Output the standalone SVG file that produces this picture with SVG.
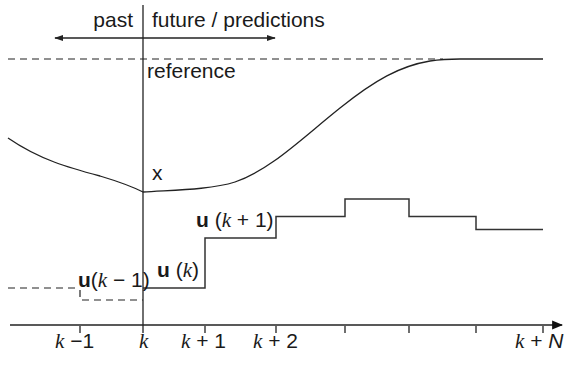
<svg xmlns="http://www.w3.org/2000/svg" width="565" height="365" viewBox="0 0 565 365">
<style>
.t{font-family:"Liberation Sans",Arial,sans-serif;font-size:21px;fill:#1a1a1a}
.k{font-family:"Liberation Serif","Times New Roman",serif;font-style:italic}
.b{font-weight:bold}
.ln{stroke:#222;stroke-width:1.3;fill:none}
.st{stroke:#333;stroke-width:1.5;fill:none}
.ds{stroke:#222;stroke-width:1.2;fill:none;stroke-dasharray:7 5}
</style>
<defs>
<marker id="ah" viewBox="0 0 10 10" refX="9" refY="5" markerWidth="9" markerHeight="9" markerUnits="userSpaceOnUse" orient="auto-start-reverse">
<path d="M0,1.5 L10,5 L0,8.5 z" fill="#222"/>
</marker>
<marker id="ah2" viewBox="0 0 10 10" refX="9" refY="5" markerWidth="11" markerHeight="11" markerUnits="userSpaceOnUse" orient="auto">
<path d="M0,1 L10,5 L0,9 z" fill="#111"/>
</marker>
</defs>
<g id="connectors">
<line class="ln" x1="10" y1="325" x2="562" y2="325" marker-end="url(#ah2)"/>
<path class="ln" d="M80,326V333M205,326V333M276,326V333M345,326V333M409,326V333M476,326V333M543,326V333"/>
<line class="ln" x1="143" y1="5" x2="143" y2="333"/>
<line class="ln" x1="55" y1="38" x2="275" y2="38" marker-start="url(#ah)" marker-end="url(#ah)"/>
<line class="ds" x1="8" y1="59" x2="443" y2="59"/>
<path class="ln" d="M8,138 C40,160 70,168 100,176 C120,182 133,187 143,192 C170,190 210,190 235,182 C270,170 300,140 340,108 C375,80 400,66 430,61 C440,59.5 450,59 460,59 L543,59"/>
<path class="ds" d="M8,288H78M80,290V298M82,300H143"/>
<path class="st" d="M143,288H205V238H276V216.5H345V199H409V216.5H476V229.5H543"/>
</g>
<g id="labels">
<text class="t" x="133" y="27" text-anchor="end">past</text>
<text class="t" x="152" y="27">future / predictions</text>
<text class="t" x="147" y="78">reference</text>
<text class="t" x="152" y="180">x</text>
<text class="t" x="196" y="227"><tspan class="b">u</tspan> (<tspan class="k">k</tspan> + 1)</text>
<text class="t" x="157" y="277"><tspan class="b">u</tspan> (<tspan class="k">k</tspan>)</text>
<text class="t" x="78" y="287"><tspan class="b">u</tspan>(<tspan class="k">k</tspan> − 1)</text>
<text class="t" x="55" y="348"><tspan class="k">k</tspan> −1</text>
<text class="t" x="139" y="348"><tspan class="k">k</tspan></text>
<text class="t" x="181" y="348"><tspan class="k">k</tspan> + 1</text>
<text class="t" x="253" y="348"><tspan class="k">k</tspan> + 2</text>
<text class="t" x="515" y="348"><tspan class="k">k</tspan> + <tspan font-style="italic">N</tspan></text>
</g>
</svg>
